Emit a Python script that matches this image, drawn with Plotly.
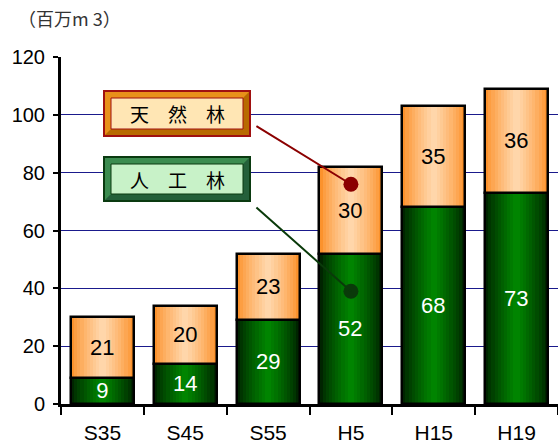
import plotly.graph_objects as go

categories = ["S35", "S45", "S55", "H5", "H15", "H19"]
planted = [9, 14, 29, 52, 68, 73]      # 人工林
natural = [21, 20, 23, 30, 35, 36]     # 天然林
yticks = [0, 20, 40, 60, 80, 100, 120]
unit_label = "（百万m 3）"

W = 558; H = 448
ML, MR, MT, MB = 61, 0, 57, 44
BAR_W = 0.76
N_LAYERS = 10


def lerp(c1, c2, t):
    return "rgb(%d,%d,%d)" % tuple(round(a + (b - a) * t) for a, b in zip(c1, c2))


fig = go.Figure()

series = [
    (planted, [0] * len(planted), (0, 36, 0), (0, 132, 0), "white"),
    (natural, planted, (252, 146, 44), (255, 214, 170), "black"),
]

for vals, base, edge, center, tcol in series:
    for k in range(N_LAYERS):
        t = k / (N_LAYERS - 1)
        w = BAR_W * (1 - k / N_LAYERS)
        fig.add_trace(go.Bar(
            x=categories, y=vals, base=base, width=w,
            marker=dict(color=lerp(edge, center, t ** 0.8), line=dict(width=0)),
            hoverinfo="skip", showlegend=False,
        ))
    fig.add_trace(go.Bar(
        x=categories, y=vals, base=base, width=BAR_W,
        marker=dict(color="rgba(0,0,0,0)", line=dict(color="black", width=2.5)),
        text=[str(v) for v in vals], textposition="inside", insidetextanchor="middle",
        textangle=0, constraintext="none",
        textfont=dict(color=tcol, size=22, family="Liberation Sans, Arial"),
        showlegend=False,
    ))

fig.add_trace(go.Scatter(x=["H5"], y=[76], mode="markers",
                         marker=dict(color="#8B0000", size=15), showlegend=False, hoverinfo="skip"))
fig.add_trace(go.Scatter(x=["H5"], y=[39], mode="markers",
                         marker=dict(color="#0A3A0A", size=15), showlegend=False, hoverinfo="skip"))

pw = W - ML - MR
ph = H - MT - MB


def px(x):
    return (x - ML) / pw


def py(y):
    return (H - MB - y) / ph


shapes = []


def bevel_box(x0, y0, x1, y1, outer_line, band, band_dark, face):
    shapes.append(dict(type="rect", xref="paper", yref="paper", layer="above",
                       x0=px(x0), x1=px(x1), y0=py(y1), y1=py(y0),
                       fillcolor=band, line=dict(color=outer_line, width=2)))
    shapes.append(dict(type="path", xref="paper", yref="paper", layer="above",
                       path="M %f %f L %f %f L %f %f L %f %f L %f %f L %f %f Z" % (
                           px(x1 - 1), py(y0 + 1), px(x1 - 1), py(y1 - 1), px(x0 + 1), py(y1 - 1),
                           px(x0 + 7), py(y1 - 7), px(x1 - 7), py(y1 - 7), px(x1 - 7), py(y0 + 7)),
                       fillcolor=band_dark, line=dict(width=0)))
    shapes.append(dict(type="rect", xref="paper", yref="paper", layer="above",
                       x0=px(x0 + 7), x1=px(x1 - 7), y0=py(y1 - 7), y1=py(y0 + 7),
                       fillcolor=face, line=dict(color=outer_line, width=1)))


bevel_box(104, 91, 250, 136, "#A01010", "#E8901A", "#B86A00", "#FFE6B4")
bevel_box(104, 157, 250, 201, "#0A3A10", "#3C8C50", "#24603A", "#C8F2C8")

annotations = [
    dict(text="天　然　林", xref="paper", yref="paper", x=px(177), y=py(113.5),
         xanchor="center", yanchor="middle",
         showarrow=False, font=dict(size=19, color="black", family="Noto Sans CJK JP")),
    dict(text="人　工　林", xref="paper", yref="paper", x=px(177), y=py(179),
         xanchor="center", yanchor="middle",
         showarrow=False, font=dict(size=19, color="black", family="Noto Sans CJK JP")),
    dict(text="", x="H5", y=76, xref="x", yref="y", showarrow=True, arrowhead=0,
         arrowwidth=2, arrowcolor="#8B0000", axref="pixel", ayref="pixel", ax=-96, ay=-59,
         standoff=0),
    dict(text="", x="H5", y=39, xref="x", yref="y", showarrow=True, arrowhead=0,
         arrowwidth=2, arrowcolor="#0A3A0A", axref="pixel", ayref="pixel", ax=-96, ay=-85,
         standoff=0),
    dict(text=unit_label, xref="paper", yref="paper", x=px(16), y=py(18), xanchor="left",
         yanchor="middle", showarrow=False,
         font=dict(size=18, color="#333", family="Noto Sans CJK JP")),
]

fig.update_layout(
    width=W, height=H, barmode="overlay", bargap=0,
    margin=dict(l=ML, r=MR, t=MT, b=MB, autoexpand=False),
    plot_bgcolor="white", paper_bgcolor="white",
    shapes=shapes, annotations=annotations,
    xaxis=dict(type="category", tickson="boundaries", ticks="outside", ticklen=8,
               tickwidth=2, tickcolor="black", showline=True, linecolor="black",
               linewidth=3, showgrid=False, ticklabelstandoff=8,
               tickfont=dict(size=21, color="black", family="Liberation Sans, Arial")),
    yaxis=dict(range=[0, 120], tickvals=yticks, ticks="outside", ticklen=5,
               tickwidth=2, tickcolor="black", showline=True, linecolor="black",
               linewidth=3, showgrid=True, gridcolor="#1A1A8C", gridwidth=1,
               zeroline=False, ticklabelstandoff=4,
               tickfont=dict(size=20, color="black", family="Liberation Sans, Arial")),
)

fig.write_html("out.html", config={"displayModeBar": False},
               post_script="document.body.style.margin='0';")
